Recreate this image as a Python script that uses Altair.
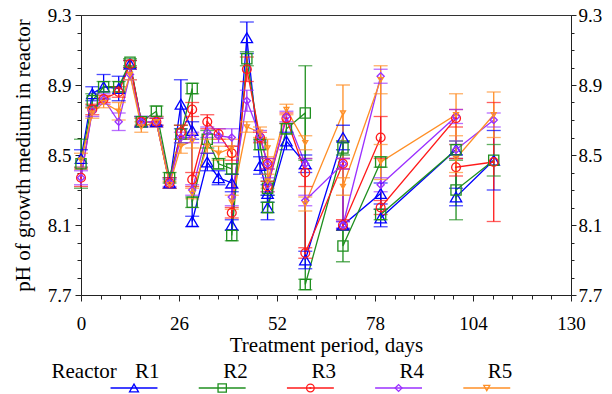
import altair as alt
import pandas as pd

# ---------------- data ----------------
SERIES = ["R1", "R2", "R3", "R4", "R5"]
DAYS = [0, 3, 6, 10, 13, 16, 20, 23.5, 26.5, 29.5, 29.5, 33.5, 36.5, 40, 40, 44,
        47.5, 49.5, 49.5, 54.5, 59.5, 59.5, 69.5, 69.5, 79.5, 79.5, 99.5, 99.5, 109.5]

R1 = [8.48, 8.85, 8.89, 8.88, 9.02, 8.69, 8.69, 8.34, 8.79, 8.64, 8.12, 8.46, 8.37, 8.34, 8.10, 9.17,
      8.44, 8.28, 8.20, 8.58, 8.45, 7.90, 8.60, 8.10, 8.28, 8.14, 8.53, 8.26, 8.47]
R1_ERR = [0.05, 0.04, 0.07, 0.07, 0.02, 0.03, 0.02, 0.03, 0.14, 0.05, 0.03, 0.05, 0.04, 0.05, 0.03, 0.09,
          0.05, 0.05, 0.07, 0.05, 0.05, 0.05, 0.07, 0.02, 0.06, 0.05, 0.03, 0.05, 0.17]
R2 = [8.45, 8.81, 8.89, 8.89, 9.03, 8.69, 8.75, 8.37, 8.62, 8.88, 8.23, 8.59, 8.45, 8.42, 8.04, 9.05,
      8.56, 8.31, 8.20, 8.65, 8.74, 7.76, 8.54, 7.98, 8.46, 8.16, 8.53, 8.30, 8.47]
R2_ERR = [0.14, 0.04, 0.03, 0.03, 0.02, 0.03, 0.03, 0.03, 0.05, 0.03, 0.03, 0.05, 0.03, 0.03, 0.03, 0.04,
          0.03, 0.04, 0.03, 0.03, 0.27, 0.03, 0.04, 0.09, 0.03, 0.03, 0.05, 0.17, 0.09]
R3 = [8.37, 8.76, 8.82, 8.86, 9.02, 8.69, 8.69, 8.34, 8.63, 8.76, 8.36, 8.69, 8.62, 8.51, 8.17, 8.99,
      8.60, 8.45, 8.32, 8.71, 8.40, 7.94, 8.45, 8.10, 8.60, 8.20, 8.71, 8.43, 8.46]
R3_ERR = [0.05, 0.03, 0.02, 0.03, 0.02, 0.02, 0.02, 0.03, 0.04, 0.04, 0.04, 0.04, 0.03, 0.04, 0.03, 0.07,
          0.03, 0.03, 0.03, 0.03, 0.08, 0.03, 0.03, 0.03, 0.12, 0.04, 0.05, 0.05, 0.34]
R4 = [8.37, 8.75, 8.82, 8.69, 8.96, 8.69, 8.69, 8.34, 8.60, 8.60, 8.30, 8.63, 8.61, 8.60, 8.26, 8.81,
      8.61, 8.45, 8.33, 8.72, 8.45, 8.24, 8.45, 8.10, 8.95, 8.33, 8.72, 8.53, 8.70]
R4_ERR = [0.04, 0.03, 0.03, 0.05, 0.03, 0.03, 0.03, 0.02, 0.03, 0.03, 0.03, 0.03, 0.04, 0.05, 0.05, 0.06,
          0.03, 0.03, 0.04, 0.03, 0.03, 0.03, 0.03, 0.02, 0.04, 0.04, 0.04, 0.05, 0.04]
R5 = [8.47, 8.74, 8.80, 8.75, 8.96, 8.66, 8.69, 8.33, 8.55, 8.58, 8.28, 8.55, 8.51, 8.54, 8.23, 8.66,
      8.63, 8.54, 8.35, 8.76, 8.57, 8.22, 8.74, 8.32, 8.93, 8.46, 8.73, 8.48, 8.73]
R5_ERR = [0.04, 0.03, 0.03, 0.05, 0.03, 0.03, 0.03, 0.02, 0.04, 0.04, 0.03, 0.04, 0.04, 0.05, 0.04, 0.03,
          0.03, 0.05, 0.04, 0.03, 0.04, 0.04, 0.16, 0.05, 0.08, 0.10, 0.12, 0.08, 0.13]

VALUES = [R1, R2, R3, R4, R5]
ERRORS = [R1_ERR, R2_ERR, R3_ERR, R4_ERR, R5_ERR]

# ---------------- styles ----------------
COLORS = ["#0000FF", "#1F8F1F", "#FF1A1A", "#9B30FF", "#FF8F26"]
SHAPES = ["triangle-up", "square", "circle", "diamond", "triangle-down"]
PLOT_SIZES = [130, 25, 70, 175, 200]
LEG_SIZES = [80, 36, 64, 130, 130]
FONT = "Liberation Serif"

rows = []
for s, vals, errs in zip(SERIES, VALUES, ERRORS):
    for i, (d, v, e) in enumerate(zip(DAYS, vals, errs)):
        rows.append({"series": s, "day": d, "ph": v, "lo": v - e, "hi": v + e, "ord": i})
df = pd.DataFrame(rows)

x_ticks = [round(i * 5.2, 1) for i in range(26)]
y_ticks = [round(7.7 + 0.1 * i, 1) for i in range(17)]
x_major = "abs(datum.value / 26 - round(datum.value / 26)) < 0.001"
y_major = "abs((datum.value - 7.7) / 0.4 - round((datum.value - 7.7) / 0.4)) < 0.001"

xs = alt.Scale(domain=[0, 130], nice=False, zero=False)
ys = alt.Scale(domain=[7.7, 9.3], nice=False, zero=False)
color = alt.Color("series:N", scale=alt.Scale(domain=SERIES, range=COLORS), legend=None)
shape = alt.Shape("series:N", scale=alt.Scale(domain=SERIES, range=SHAPES), legend=None)

x_axis = alt.Axis(values=x_ticks, labelExpr=f"{x_major} ? datum.label : ''", format="d",
                  tickSize={"condition": {"test": x_major, "value": 6}, "value": 4},
                  title="Treatment period, days", labelOverlap=False, labelFlush=False,
                  labelPadding=13, titlePadding=1, grid=False, orient="bottom")
y_axis_left = alt.Axis(values=y_ticks, labelExpr=f"{y_major} ? datum.label : ''", format=".1f",
                       tickSize={"condition": {"test": y_major, "value": 6}, "value": 4},
                       title="pH of growth medium in reactor", labelOverlap=False, labelFlush=False,
                       labelPadding=4, titlePadding=14, grid=False, orient="left")
y_axis_right = alt.Axis(values=y_ticks, labelExpr=f"{y_major} ? datum.label : ''", format=".1f",
                        tickSize={"condition": {"test": y_major, "value": 5}, "value": 3},
                        title=None, labelOverlap=False, labelFlush=False,
                        labelPadding=2, grid=False, orient="right")

base = alt.Chart(df)

lines = base.mark_line(strokeWidth=1.3).encode(
    x=alt.X("day:Q", scale=xs, axis=x_axis),
    y=alt.Y("ph:Q", scale=ys, axis=y_axis_left),
    color=color, detail="series:N", order="ord:Q")

rules = base.mark_rule(strokeWidth=1.3).encode(
    x=alt.X("day:Q", scale=xs, axis=None),
    y=alt.Y("lo:Q", scale=ys, axis=None), y2="hi:Q", color=color)

cap_lo = base.mark_tick(orient="horizontal", size=14, thickness=1.3).encode(
    x=alt.X("day:Q", scale=xs, axis=None),
    y=alt.Y("lo:Q", scale=ys, axis=None), color=color)
cap_hi = base.mark_tick(orient="horizontal", size=14, thickness=1.3).encode(
    x=alt.X("day:Q", scale=xs, axis=None),
    y=alt.Y("hi:Q", scale=ys, axis=None), color=color)

points = base.mark_point(filled=False, strokeWidth=1.3, opacity=1).encode(
    x=alt.X("day:Q", scale=xs, axis=None),
    y=alt.Y("ph:Q", scale=ys, axis=y_axis_right),
    color=color, shape=shape,
    size=alt.Size("series:N", scale=alt.Scale(domain=SERIES, range=PLOT_SIZES), legend=None))

dots = base.transform_filter(alt.datum.series == "R3").mark_point(
    filled=True, size=5, opacity=1).encode(
    x=alt.X("day:Q", scale=xs, axis=None),
    y=alt.Y("ph:Q", scale=ys, axis=None), color=color)

# ---------------- legend built from the series list ----------------
leg_df = pd.DataFrame({"series": SERIES, "li": list(range(1, len(SERIES) + 1))})
leg_base = alt.Chart(leg_df).transform_calculate(a="datum.li - 0.266", b="datum.li + 0.266")
ls = alt.Scale(domain=[0.399, 5.955], nice=False, zero=False)
leg_lines = leg_base.mark_rule(strokeWidth=1.5).encode(
    x=alt.X("a:Q", scale=ls, axis=None), x2="b:Q", y=alt.value(373), color=color)
leg_pts = leg_base.mark_point(filled=False, strokeWidth=1.3, opacity=1).encode(
    x=alt.X("li:Q", scale=ls, axis=None), y=alt.value(373), color=color, shape=shape,
    size=alt.Size("series:N", scale=alt.Scale(domain=SERIES, range=LEG_SIZES), legend=None))
leg_dot = leg_base.transform_filter(alt.datum.series == "R3").mark_point(
    filled=True, size=5, opacity=1).encode(
    x=alt.X("li:Q", scale=ls, axis=None), y=alt.value(373), color=color)
leg_text = leg_base.mark_text(align="left", baseline="middle", font=FONT, fontSize=21,
                              dx=1, color="black").encode(
    x=alt.X("li:Q", scale=ls, axis=None), y=alt.value(357), text="series:N")
leg_title = alt.Chart(pd.DataFrame({"t": ["Reactor"]})).mark_text(
    align="left", baseline="middle", font=FONT, fontSize=21, color="black").encode(
    x=alt.value(-29.5), y=alt.value(357), text="t:N")

chart = alt.layer(
    lines, rules, cap_lo, cap_hi, points, dots,
    leg_lines, leg_pts, leg_dot, leg_text, leg_title
).resolve_scale(
    x="independent", size="independent"
).resolve_axis(
    x="independent", y="independent"
).properties(
    width=490, height=280,
    autosize=alt.AutoSizeParams(type="none"),
    padding={"left": 81, "top": 15, "right": 41, "bottom": 99},
).configure_view(
    stroke="#333333", strokeWidth=1
).configure_axis(
    labelFont=FONT, labelFontSize=19, labelColor="black",
    titleFont=FONT, titleFontSize=21, titleFontWeight="normal", titleColor="black",
    domainColor="#222222", tickColor="#222222", domainWidth=1, tickWidth=1
)

chart.save("out.html", embed_options={"renderer": "svg", "actions": False})
